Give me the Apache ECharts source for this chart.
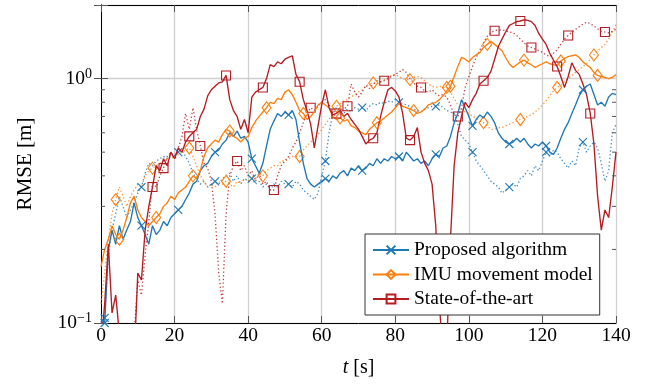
<!DOCTYPE html>
<html><head><meta charset="utf-8">
<script src="https://cdn.jsdelivr.net/npm/echarts@6/dist/echarts.min.js"></script>
<style>html,body{margin:0;padding:0;background:#fff}#c{width:648px;height:386px}</style>
</head><body><div id="c"></div>
<script>
const seriesNames = ['Proposed algorithm', 'IMU movement model', 'State-of-the-art'];
const xTicks = [0, 20, 40, 60, 80, 100, 120, 140];
const yMinorTicks = [0.2, 0.3, 0.4, 0.5, 0.6, 0.7, 0.8, 0.9];
// time in seconds, one sample per second (t = 0..140)
const proposedSolid = [
0.10,0.10,0.20,0.24,0.21,0.25,0.22,0.24,0.26,0.31,
0.27,0.25,0.23,0.21,0.25,0.23,0.24,0.26,0.25,0.27,
0.28,0.29,0.30,0.32,0.34,0.37,0.38,0.42,0.44,0.45,
0.48,0.50,0.51,0.54,0.56,0.60,0.58,0.61,0.57,0.58,
0.55,0.47,0.44,0.41,0.45,0.53,0.62,0.67,0.72,0.70,
0.73,0.71,0.74,0.68,0.55,0.45,0.39,0.37,0.36,0.37,
0.38,0.39,0.38,0.40,0.39,0.41,0.42,0.40,0.43,0.42,
0.44,0.42,0.43,0.45,0.44,0.47,0.45,0.47,0.46,0.48,
0.47,0.48,0.46,0.50,0.48,0.46,0.47,0.45,0.46,0.44,
0.47,0.49,0.48,0.52,0.53,0.58,0.66,0.72,0.82,0.76,
0.70,0.64,0.68,0.71,0.69,0.73,0.70,0.66,0.60,0.57,
0.55,0.54,0.55,0.57,0.55,0.57,0.54,0.52,0.54,0.53,
0.55,0.53,0.50,0.49,0.52,0.57,0.62,0.66,0.72,0.78,
0.85,0.90,0.93,0.95,0.86,0.78,0.80,0.77,0.84,0.87,
0.86];
const proposedDotted = [
0.10,0.105,0.19,0.24,0.28,0.33,0.30,0.27,0.29,0.31,
0.34,0.36,0.41,0.45,0.44,0.46,0.47,0.48,0.47,0.49,
0.48,0.50,0.51,0.48,0.45,0.41,0.39,0.37,0.38,0.36,
0.37,0.38,0.37,0.39,0.40,0.41,0.38,0.40,0.37,0.39,
0.38,0.39,0.37,0.38,0.36,0.37,0.35,0.37,0.36,0.38,
0.37,0.37,0.36,0.38,0.37,0.35,0.34,0.33,0.32,0.34,
0.40,0.46,0.60,0.72,0.76,0.74,0.72,0.75,0.73,0.76,
0.75,0.76,0.74,0.77,0.79,0.78,0.80,0.79,0.81,0.80,
0.82,0.80,0.79,0.78,0.77,0.75,0.74,0.73,0.75,0.76,
0.77,0.77,0.78,0.76,0.74,0.73,0.72,0.65,0.58,0.56,
0.54,0.50,0.46,0.44,0.42,0.40,0.38,0.37,0.36,0.34,
0.35,0.36,0.37,0.36,0.39,0.40,0.42,0.40,0.44,0.42,
0.46,0.50,0.48,0.51,0.50,0.47,0.45,0.43,0.46,0.44,
0.52,0.55,0.50,0.53,0.55,0.52,0.45,0.38,0.42,0.60,
0.65];
const imuSolid = [
0.17,0.20,0.22,0.25,0.23,0.22,0.24,0.27,0.31,0.33,
0.29,0.27,0.26,0.25,0.26,0.27,0.28,0.30,0.31,0.33,
0.32,0.34,0.35,0.36,0.38,0.40,0.39,0.42,0.48,0.52,
0.54,0.56,0.55,0.59,0.62,0.61,0.58,0.57,0.55,0.57,
0.58,0.63,0.67,0.70,0.73,0.76,0.80,0.79,0.83,0.82,
0.88,0.90,0.86,0.80,0.74,0.72,0.68,0.70,0.73,0.78,
0.80,0.78,0.76,0.70,0.68,0.69,0.67,0.68,0.64,0.63,
0.61,0.60,0.59,0.62,0.64,0.66,0.67,0.69,0.71,0.73,
0.76,0.79,0.77,0.76,0.75,0.74,0.72,0.73,0.75,0.78,
0.79,0.80,0.82,0.85,0.89,0.93,1.02,1.12,1.22,1.20,
1.17,1.22,1.25,1.28,1.34,1.38,1.42,1.38,1.34,1.30,
1.22,1.15,1.11,1.14,1.17,1.19,1.16,1.14,1.11,1.13,
1.15,1.17,1.15,1.14,1.13,1.18,1.21,1.23,1.24,1.25,
1.22,1.17,1.14,1.11,1.06,1.03,1.02,1.01,1.00,1.01,
1.04];
const imuDotted = [
0.12,0.16,0.22,0.28,0.32,0.36,0.33,0.30,0.33,0.35,
0.37,0.36,0.40,0.42,0.43,0.44,0.45,0.46,0.47,0.48,
0.47,0.49,0.50,0.51,0.52,0.48,0.44,0.40,0.38,0.36,
0.37,0.36,0.38,0.37,0.38,0.37,0.36,0.38,0.37,0.39,
0.38,0.40,0.39,0.41,0.40,0.42,0.43,0.44,0.44,0.46,
0.46,0.47,0.48,0.48,0.48,0.51,0.53,0.55,0.57,0.59,
0.62,0.65,0.68,0.72,0.77,0.79,0.81,0.82,0.84,0.86,
0.88,0.90,0.93,0.95,0.96,0.95,0.97,0.99,1.01,1.03,
1.04,1.02,1.00,0.99,0.99,1.01,1.02,1.01,0.98,0.95,
0.93,0.92,0.93,0.92,0.92,0.88,0.83,0.78,0.75,0.73,
0.72,0.70,0.69,0.67,0.66,0.64,0.62,0.62,0.63,0.63,
0.64,0.65,0.66,0.67,0.68,0.69,0.70,0.71,0.73,0.75,
0.78,0.81,0.85,0.89,0.92,0.94,0.97,1.00,1.03,1.06,
1.09,1.12,1.15,1.20,1.25,1.30,1.34,1.38,1.45,1.55,
1.66];
const sotaSolid = [
0.08,0.12,0.21,0.11,0.13,0.09,0.07,0.06,0.06,0.07,
0.16,0.15,0.24,0.30,0.36,0.44,0.42,0.47,0.44,0.50,
0.47,0.52,0.50,0.55,0.58,0.60,0.62,0.70,0.75,0.85,
0.90,0.93,0.96,0.97,1.03,0.82,0.74,0.70,0.62,0.68,
0.60,0.84,0.88,0.90,0.92,1.00,1.14,1.12,1.17,1.15,
1.20,1.22,1.24,1.04,0.97,0.82,0.74,0.65,0.52,0.64,
0.78,0.90,0.76,0.71,0.72,0.74,0.70,0.72,0.68,0.65,
0.62,0.58,0.54,0.56,0.57,0.60,0.70,0.80,0.90,0.92,
0.89,0.84,0.72,0.57,0.56,0.58,0.63,0.50,0.45,0.42,
0.37,0.25,0.12,0.07,0.08,0.22,0.44,0.60,0.70,0.80,
0.76,0.82,0.87,0.95,0.98,1.01,1.07,1.20,1.35,1.45,
1.55,1.65,1.68,1.71,1.72,1.74,1.73,1.71,1.65,1.53,
1.45,1.38,1.27,1.19,1.12,1.02,0.92,1.02,1.16,1.08,
1.04,0.95,0.86,0.72,0.54,0.33,0.24,0.29,0.27,0.36,
0.50];
const sotaDotted = [
0.06,0.06,0.06,0.06,0.06,0.06,0.06,0.06,0.07,0.09,
0.15,0.13,0.19,0.26,0.38,0.36,0.40,0.43,0.48,0.50,
0.47,0.52,0.58,0.72,0.62,0.76,0.62,0.53,0.45,0.43,
0.38,0.28,0.16,0.12,0.28,0.40,0.44,0.46,0.42,0.44,
0.40,0.42,0.38,0.41,0.37,0.38,0.35,0.35,0.40,0.44,
0.46,0.48,0.52,0.55,0.60,0.66,0.72,0.76,0.74,0.77,
0.80,0.82,0.78,0.72,0.70,0.73,0.75,0.77,0.95,0.88,
0.84,0.88,0.94,0.91,0.95,0.98,0.97,0.98,1.00,1.02,
1.04,1.06,1.09,1.06,1.00,0.96,0.93,0.92,0.89,0.88,
0.90,0.87,0.85,0.86,0.84,0.78,0.71,0.70,0.76,0.92,
1.02,1.12,1.22,1.31,1.40,1.49,1.54,1.57,1.58,1.58,
1.57,1.55,1.54,1.50,1.45,1.40,1.36,1.34,1.32,1.30,
1.28,1.25,1.23,1.27,1.31,1.38,1.45,1.50,1.55,1.59,
1.63,1.67,1.70,1.68,1.64,1.60,1.56,1.55,1.54,1.56,
1.59];
// marker positions (seconds)
const proposedSolidMarks = [1,11,21,31,41,51,61,71,81,91,101,111,121,131];
const proposedDottedMarks = [1,11,21,31,41,51,61,71,81,91,101,111,121,131];
const imuSolidMarks = [5,15,25,35,45,55,65,75,85,95,105,115,125,135];
const imuDottedMarks = [4,14,24,34,44,54,64,74,84,94,104,114,124,134];
const sotaSolidMarks = [14,24,34,44,54,64,74,84,104,114,124,133];
const sotaDottedMarks = [17,27,37,47,57,67,77,87,97,107,117,127,137];

const FONT = 'Liberation Serif';
const BLUE = '#1f77b4', ORANGE = '#ff7f0e', RED = '#b41c22';
const X_SYM = 'path://M0 0L10 10M10 0L0 10';

function build(vals, marks) {
  return vals.map((v, i) => marks.indexOf(i) >= 0 ? [i, v] : { value: [i, v], symbol: 'none' });
}
function lineSeries(name, vals, marks, color, symbol, size, dotted) {
  return {
    type: 'line', name: name, data: build(vals, marks),
    symbol: symbol, symbolSize: size, showSymbol: true, showAllSymbol: true,
    lineStyle: { color: color, width: dotted ? 1.3 : 1.35, type: dotted ? [1.3, 2.4] : 'solid', opacity: dotted ? 0.85 : 1 },
    itemStyle: { color: 'rgba(0,0,0,0)', borderColor: color, borderWidth: 1.1 },
    emphasis: { disabled: true }, silent: true, clip: true, z: dotted ? 2 : 3,
    animation: false
  };
}

const chart = echarts.init(document.getElementById('c'), null, { renderer: 'canvas' });
const tickColor = '#555';
chart.setOption({
  animation: false,
  grid: { left: 101, top: 5, right: 32, bottom: 63 },
  legend: {
    data: seriesNames, left: 365, top: 234, orient: 'vertical', align: 'left',
    padding: [6, 7, 6, 7], itemGap: 4.5, itemWidth: 36, itemHeight: 11,
    borderColor: '#333', borderWidth: 1, backgroundColor: '#fff',
    textStyle: { fontFamily: FONT, fontSize: 19.5, color: '#000' }, selectedMode: false, z: 10
  },
  xAxis: [{
    type: 'value', min: xTicks[0], max: xTicks[xTicks.length - 1], interval: 20,
    axisLine: { lineStyle: { color: '#000', width: 1 } },
    axisTick: { inside: true, length: 7, lineStyle: { color: tickColor } },
    axisLabel: { fontFamily: FONT, fontSize: 19.5, color: '#000', margin: 3 },
    splitLine: { show: true, lineStyle: { color: '#d0d0d0', width: 1.3 } },
    name: '{i|t} [s]', nameLocation: 'middle', nameGap: 35,
    nameTextStyle: { fontFamily: FONT, fontSize: 20, color: '#000', rich: { i: { fontFamily: FONT, fontSize: 20, fontStyle: 'italic' } } }
  }, {
    type: 'value', position: 'top', min: xTicks[0], max: xTicks[xTicks.length - 1], interval: 20,
    axisLine: { show: true, lineStyle: { color: '#000', width: 1 } },
    axisTick: { inside: true, length: 7, lineStyle: { color: tickColor } },
    axisLabel: { show: false }, splitLine: { show: false }
  }],
  yAxis: [{
    type: 'log', logBase: 10, min: 0.1, max: 2,
    axisLine: { show: true, lineStyle: { color: '#000', width: 1 } },
    axisTick: { inside: true, length: 7, lineStyle: { color: tickColor } },
    axisLabel: {
      fontFamily: FONT, fontSize: 19.5, color: '#000', margin: 9,
      formatter: function (v) {
        const e = Math.log10(v);
        if (Math.abs(e - Math.round(e)) > 1e-6) return '';
        const r = Math.round(e);
        return '10{s|' + (r < 0 ? '\u2212' : '') + Math.abs(r) + '}';
      },
      rich: { s: { fontFamily: FONT, fontSize: 14, padding: [0, 0, 9, 0] } }
    },
    splitLine: { show: true, lineStyle: { color: '#d0d0d0', width: 1.3 } },
    name: 'RMSE [m]', nameLocation: 'middle', nameGap: 65,
    nameTextStyle: { fontFamily: FONT, fontSize: 21, color: '#000' }
  }, {
    type: 'log', logBase: 10, min: 0.1, max: 2, position: 'right',
    axisLine: { show: true, lineStyle: { color: '#000', width: 1 } },
    axisTick: { inside: true, length: 7, lineStyle: { color: tickColor } },
    axisLabel: { show: false }, splitLine: { show: false }
  }],
  series: [
    lineSeries('Proposed dotted', proposedDotted, proposedDottedMarks, BLUE, X_SYM, 8, true),
    lineSeries('IMU dotted', imuDotted, imuDottedMarks, ORANGE, 'diamond', [9, 12], true),
    lineSeries('SotA dotted', sotaDotted, sotaDottedMarks, RED, 'rect', 9, true),
    lineSeries(seriesNames[0], proposedSolid, proposedSolidMarks, BLUE, X_SYM, 8, false),
    lineSeries(seriesNames[1], imuSolid, imuSolidMarks, ORANGE, 'diamond', [9, 12], false),
    lineSeries(seriesNames[2], sotaSolid, sotaSolidMarks, RED, 'rect', 9, false),
    {
      type: 'custom', silent: true, z: 5, clip: false,
      data: yMinorTicks.map(v => [xTicks[0], v]),
      renderItem: function (params, api) {
        const v = api.value(1);
        const pl = api.coord([xTicks[0], v]);
        const pr = api.coord([xTicks[xTicks.length - 1], v]);
        return { type: 'group', children: [
          { type: 'line', shape: { x1: pl[0], y1: pl[1], x2: pl[0] + 4, y2: pl[1] }, style: { stroke: tickColor, lineWidth: 1 } },
          { type: 'line', shape: { x1: pr[0] - 4, y1: pr[1], x2: pr[0], y2: pr[1] }, style: { stroke: tickColor, lineWidth: 1 } }
        ] };
      }
    }
  ]
});
</script>
</body></html>
